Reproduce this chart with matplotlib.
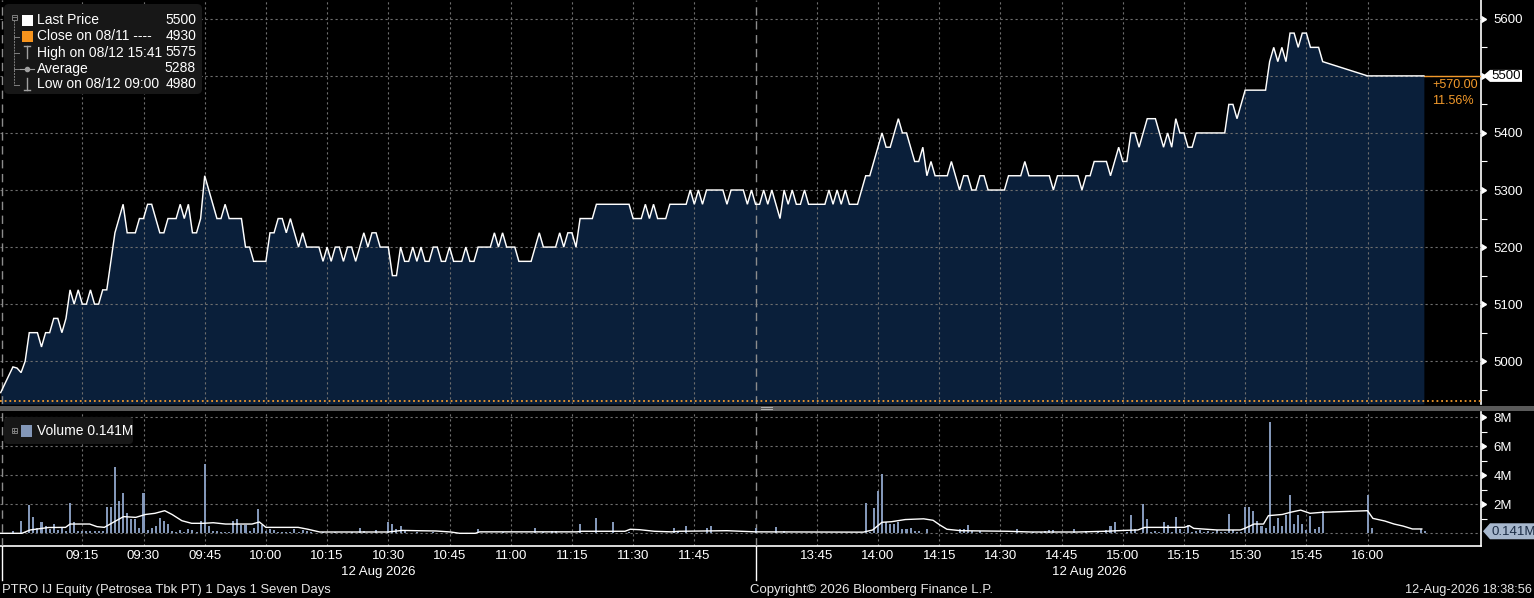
import matplotlib
matplotlib.use("Agg")
import matplotlib.pyplot as plt
from matplotlib.patches import FancyBboxPatch, Rectangle, Polygon
from matplotlib.ticker import FixedLocator
import numpy as np

plt.rcParams['font.family'] = ['Liberation Sans', 'DejaVu Sans']

W, H = 1534, 598

# ---------------- DATA ----------------
# x axis: trading minutes since 09:00 with the lunch break (12:00-13:30) removed
tick_minutes = [15, 30, 45, 60, 75, 90, 105, 120, 135, 150, 165,
                195, 210, 225, 240, 255, 270, 285, 300, 315, 330]
tick_labels = ["09:15", "09:30", "09:45", "10:00", "10:15", "10:30", "10:45",
               "11:00", "11:15", "11:30", "11:45",
               "13:45", "14:00", "14:15", "14:30", "14:45", "15:00", "15:15",
               "15:30", "15:45", "16:00"]
session_break = 180
day_start = -4.7
x_min, x_max = -5.17, 357.8

# price, one value per minute from minute -5 to minute 319
price_start = -5
price_values = [
    4945, 4960, 4975, 4990, 4988,
    4980, 5000, 5050, 5050, 5050, 5025, 5050, 5050, 5075, 5075,
    5050, 5075, 5125, 5100, 5125, 5100, 5100, 5125, 5100, 5100,
    5125, 5125, 5175, 5225, 5250, 5275, 5225, 5225, 5225, 5250,
    5250, 5275, 5275, 5250, 5225, 5225, 5250, 5250, 5250, 5275,
    5250, 5275, 5225, 5225, 5250, 5325, 5300, 5275, 5250, 5250,
    5275, 5250, 5250, 5250, 5250, 5200, 5200, 5175, 5175, 5175,
    5175, 5225, 5225, 5250, 5250, 5225, 5250, 5225, 5200, 5225,
    5200, 5200, 5200, 5200, 5175, 5200, 5175, 5200, 5200, 5175,
    5200, 5200, 5175, 5200, 5225, 5200, 5225, 5225, 5200, 5200,
    5200, 5150, 5150, 5200, 5175, 5175, 5200, 5175, 5200, 5175,
    5175, 5200, 5200, 5175, 5175, 5200, 5175, 5175, 5175, 5200,
    5175, 5175, 5200, 5200, 5200, 5200, 5225, 5200, 5225, 5200,
    5200, 5200, 5175, 5175, 5175, 5175, 5200, 5225, 5200, 5200,
    5200, 5200, 5225, 5200, 5225, 5225, 5200, 5250, 5250, 5250,
    5250, 5275, 5275, 5275, 5275, 5275, 5275, 5275, 5275, 5275,
    5250, 5250, 5250, 5275, 5250, 5275, 5250, 5250, 5250, 5275,
    5275, 5275, 5275, 5275, 5300, 5275, 5300, 5275, 5300, 5300,
    5300, 5300, 5300, 5275, 5300, 5300, 5300, 5300, 5275, 5300,
    5275, 5275, 5300, 5275, 5300, 5275, 5250, 5300, 5275, 5300,
    5275, 5275, 5300, 5275, 5275, 5275, 5275, 5275, 5300, 5275,
    5300, 5275, 5300, 5275, 5275, 5275, 5300, 5325, 5325, 5350,
    5375, 5400, 5375, 5375, 5400, 5425, 5400, 5400, 5375, 5350,
    5350, 5375, 5325, 5350, 5325, 5325, 5325, 5325, 5350, 5325,
    5300, 5325, 5325, 5300, 5300, 5325, 5325, 5300, 5300, 5300,
    5300, 5300, 5325, 5325, 5325, 5325, 5350, 5325, 5325, 5325,
    5325, 5325, 5325, 5300, 5325, 5325, 5325, 5325, 5325, 5325,
    5300, 5325, 5325, 5350, 5350, 5350, 5350, 5325, 5350, 5375,
    5350, 5350, 5400, 5400, 5375, 5400, 5425, 5425, 5425, 5400,
    5375, 5400, 5375, 5425, 5400, 5400, 5375, 5375, 5400, 5400,
    5400, 5400, 5400, 5400, 5400, 5400, 5450, 5450, 5425, 5450,
    5475, 5475, 5475, 5475, 5475, 5475, 5525, 5550, 5525, 5550,
    5525, 5575, 5575, 5550, 5575, 5575, 5550, 5550, 5550, 5525,
]
close_minutes = [330, 343.8]
close_values = [5500, 5500]
prev_close = 4930
last_price = 5500

# volume (millions), one value per minute from minute -5 to minute 344
vol_start = -5
volume = [
    0, 0, 0, 0.16, 0,
    0.85, 0.10, 1.95, 1.13, 0.40, 0.80, 0.50, 0.30, 0.65, 0.23,
    0.40, 0.15, 2.07, 0.80, 0.15, 0.15, 0.15, 0.15, 0.15, 0.15,
    0.15, 1.80, 1.80, 4.55, 2.20, 2.75, 1.40, 1.00, 1.00, 0.40,
    2.75, 0.23, 0.40, 0.50, 1.03, 0.85, 0.64, 0.15, 0.10, 0.23,
    0.10, 0.30, 0.23, 0.10, 0.85, 4.78, 0.50, 0.15, 0.15, 0.10,
    0.10, 0.10, 0.85, 1.00, 0.57, 0.57, 0.15, 0.37, 1.65, 0.57,
    0.15, 0.30, 0.23, 0.10, 0.08, 0.08, 0.10, 0.30, 0.10, 0.23,
    0.15, 0.10, 0.05, 0.05, 0.06, 0.05, 0.05, 0.06, 0.05, 0.05,
    0.05, 0.06, 0.05, 0.37, 0.15, 0.05, 0.05, 0.23, 0.05, 0.05,
    0.80, 0.64, 0.30, 0.50, 0.15, 0.05, 0.05, 0.06, 0.05, 0.05,
    0.05, 0.06, 0.05, 0.05, 0.05, 0.05, 0.04, 0.05, 0.05, 0.04,
    0.05, 0.05, 0.30, 0.05, 0.05, 0.04, 0.05, 0.05, 0.10, 0.05,
    0.05, 0.04, 0.05, 0.05, 0.05, 0.05, 0.37, 0.05, 0.10, 0.05,
    0.15, 0.15, 0.05, 0.05, 0.05, 0.05, 0.05, 0.64, 0.05, 0.05,
    0.05, 1.05, 0.05, 0.05, 0.05, 0.80, 0.05, 0.05, 0.05, 0.10,
    0.05, 0.05, 0.05, 0.05, 0.05, 0.05, 0.05, 0.05, 0.05, 0.05,
    0.40, 0.10, 0.05, 0.50, 0.05, 0.05, 0.05, 0.05, 0.40, 0.50,
    0.05, 0.05, 0.05, 0.05, 0.05, 0.05, 0.05, 0.05, 0.05, 0.05,
    0.40, 0.05, 0.05, 0.05, 0.05, 0.41, 0.05, 0.16, 0.05, 0.05,
    0.05, 0.05, 0.05, 0.05, 0.05, 0.05, 0.05, 0.05, 0.05, 0.05,
    0.05, 0.05, 0.05, 0.05, 0.05, 0.05, 0.05, 2.10, 0.10, 1.75,
    2.90, 4.10, 0.76, 0.64, 0.64, 0.80, 0.30, 0.30, 0.37, 0.16,
    0.16, 0.05, 0.30, 0.05, 0.05, 0.05, 0.05, 0.05, 0.05, 0.05,
    0.30, 0.30, 0.57, 0.16, 0.05, 0.16, 0.05, 0.05, 0.05, 0.05,
    0.05, 0.05, 0.05, 0.05, 0.28, 0.05, 0.05, 0.05, 0.10, 0.05,
    0.10, 0.16, 0.23, 0.23, 0.05, 0.05, 0.05, 0.05, 0.30, 0.05,
    0.05, 0.16, 0.05, 0.05, 0.16, 0.05, 0.23, 0.50, 0.80, 0.05,
    0.05, 0.10, 1.26, 0.30, 0.05, 2.00, 1.00, 0.10, 0.16, 0.10,
    0.76, 0.57, 0.10, 1.13, 0.30, 0.10, 0.57, 0.10, 0.16, 0.23,
    0.10, 0.16, 0.10, 0.23, 0.10, 0.10, 1.33, 0.23, 0.10, 0.10,
    1.82, 1.82, 1.54, 0.85, 0.50, 0.37, 7.70, 0.50, 1.06, 0.50,
    1.26, 2.64, 0.64, 1.26, 0.64, 0.23, 1.20, 0.30, 0.44, 1.54,
    0, 0, 0, 0, 0, 0, 0, 0, 0, 0,
    2.64, 0.37, 0, 0, 0, 0, 0, 0, 0, 0,
    0, 0, 0, 0.30, 0.14,
]
last_volume = 0.141

# volume average line (minute, millions)
avg_minutes = [-5.2, 0.2, 2.2, 6.7, 10.9, 12, 16.8, 18.6, 20.4, 23.3, 25.1, 28.1,
               30.5, 32.8, 35.2, 37, 39.4, 41.8, 44.7, 47.1, 50.1, 56.6, 58.4, 60,
               67.9, 70.3, 73.2, 89.9, 93.4, 97, 101.7, 105.3, 107.5, 111.3, 112.4,
               136.2, 137.4, 148, 149.3, 151.6, 155.2, 159.4, 161.2, 173, 180,
               206.4, 208.7, 211, 213.3, 216.7, 221.2, 223.5, 225.2, 226.9, 230.3,
               241.8, 247.5, 258.9, 265.7, 270.3, 273.7, 275.4, 285.1, 286.3, 287.4,
               293.1, 298.8, 299.9, 302.2, 304.5, 305.7, 309.1, 311.4, 313.6, 315.9,
               318.9, 330, 331.3, 334.2, 336.5, 338.7, 341, 343.3]
avg_values = [0, 0, 0.23, 0.40, 0.41, 0.64, 0.64, 0.46, 0.41, 0.87, 1.15, 1.10,
              1.30, 1.38, 1.56, 1.30, 0.87, 0.69, 0.69, 0.73, 0.64, 0.64, 0.78, 0.41,
              0.41, 0.28, 0.09, 0.09, 0.20, 0.18, 0.16, 0.09, 0.0, 0.0, 0.10,
              0.10, 0.14, 0.14, 0.28, 0.25, 0.14, 0.10, 0.14, 0.18, 0.10,
              0.08, 0.23, 0.76, 0.80, 0.95, 1.00, 0.90, 0.57, 0.28, 0.18,
              0.14, 0.09, 0.09, 0.14, 0.20, 0.23, 0.41, 0.41, 0.53, 0.34,
              0.23, 0.23, 0.34, 0.64, 0.64, 1.22, 1.30, 1.47, 1.60, 1.38,
              1.45, 1.56, 1.03, 0.85, 0.64, 0.50, 0.30, 0.30]

legend_labels = ["Last Price", "Close on 08/11 ----", "High on 08/12 15:41",
                 "Average", "Low on 08/12 09:00"]
legend_values = ["5500", "4930", "5575", "5288", "4980"]

date_label = "12 Aug 2026"
footer_left = "PTRO IJ Equity (Petrosea Tbk PT) 1 Days 1 Seven Days"
footer_mid = "Copyright\u00a9 2026 Bloomberg Finance L.P."
footer_right = "12-Aug-2026 18:38:56"

# ---------------- STYLE ----------------
BG = "black"
FILL = "#0a1f3a"
GRID = "#6e6e6e"
ORANGE = "#f39a2b"
VOLC = "#8397b8"
TXT = "white"
FS = 9.5
LFS = 10

fig = plt.figure(figsize=(W / 100, H / 100), dpi=100, facecolor=BG)


def box(l, t, r, b):
    return [l / W, 1 - b / H, (r - l) / W, (b - t) / H]


ax = fig.add_axes(box(0, 0, 1481, 404), facecolor=BG)
axv = fig.add_axes(box(0, 412, 1481, 545.7), facecolor=BG)

# ---- price panel ----
p_t = list(np.arange(price_start, price_start + len(price_values))) + close_minutes
p_v = price_values + close_values
ax.set_xlim(x_min, x_max)
ax.set_ylim(4925, 5633)
ax.fill_between(p_t, p_v, 4925, color=FILL, lw=0, zorder=1)
ax.plot(p_t, p_v, color="white", lw=1.05, zorder=5, solid_joinstyle="miter")
ax.axhline(prev_close, color=ORANGE, ls=(0, (1, 1.6)), lw=1.3, zorder=4)
ax.plot([close_minutes[-1], x_max], [last_price, last_price], color=ORANGE, lw=1.0, zorder=4)

ax.set_xticks(tick_minutes)
ax.set_yticks(np.arange(5000, 5601, 100))
ax.yaxis.set_minor_locator(FixedLocator(np.arange(4950, 5651, 100)))
ax.grid(True, which="major", color=GRID, ls=(0, (2, 2.5)), lw=0.8)
ax.set_axisbelow(False)
for gl in ax.get_xgridlines() + ax.get_ygridlines():
    gl.set_zorder(2)
ax.tick_params(axis="x", length=0, labelbottom=False)
ax.yaxis.tick_right()
ax.tick_params(axis="y", which="major", length=0, pad=9, labelcolor=TXT, labelsize=FS)
ax.tick_params(axis="y", which="minor", length=4, width=0.8, color="white", direction="out")
for s in ["left", "top", "bottom"]:
    ax.spines[s].set_visible(False)
ax.spines["right"].set_color("white")
ax.spines["right"].set_linewidth(1.2)
ax.plot([x_max] * 7, np.arange(5000, 5601, 100), ls="none", marker=9, ms=5,
        color="white", clip_on=False, zorder=6)
for a in (ax, axv):
    a.axvline(day_start, color="#8c8c8c", ls=(0, (6, 4)), lw=1.0, zorder=3)
    a.axvline(session_break, color="#8c8c8c", ls=(0, (6, 4)), lw=1.0, zorder=3)

# ---- volume panel ----
v_t = np.arange(vol_start, vol_start + len(volume))
axv.set_xlim(x_min, x_max)
axv.set_ylim(-0.855, 8.37)
axv.bar(v_t, volume, width=0.5, color=VOLC, lw=0, zorder=3)
axv.plot(avg_minutes, avg_values, color="white", lw=1.0, zorder=4)
axv.set_xticks(tick_minutes)
axv.set_xticklabels(tick_labels)
axv.set_yticks([0, 2, 4, 6, 8])
axv.set_yticklabels(["", "2M", "4M", "6M", "8M"])
axv.yaxis.set_minor_locator(FixedLocator([1, 3, 5, 7]))
axv.grid(True, which="major", color=GRID, ls=(0, (2, 2.5)), lw=0.8)
for gl in axv.get_xgridlines() + axv.get_ygridlines():
    gl.set_zorder(2)
axv.yaxis.tick_right()
axv.tick_params(axis="y", which="major", length=0, pad=9, labelcolor=TXT, labelsize=FS)
axv.tick_params(axis="y", which="minor", length=4, width=0.8, color="white", direction="out")
axv.tick_params(axis="x", length=0, pad=3, labelcolor=TXT, labelsize=FS)
for s in ["left", "top"]:
    axv.spines[s].set_visible(False)
for s in ["right", "bottom"]:
    axv.spines[s].set_color("white")
    axv.spines[s].set_linewidth(1.2)
axv.plot([x_max] * 4, [2, 4, 6, 8], ls="none", marker=9, ms=5,
         color="white", clip_on=False, zorder=6)

# ---- overlay in pixel coordinates ----
ov = fig.add_axes([0, 0, 1, 1], facecolor="none")
ov.set_xlim(0, W)
ov.set_ylim(H, 0)
ov.axis("off")
ov.set_zorder(10)

fig.canvas.draw()


def ypix(axis, val):
    return H - axis.transData.transform((0, val))[1]


def xpix(axis, val):
    return axis.transData.transform((val, 0))[0]


# separator band between panels
ov.add_patch(Rectangle((0, 405.5), W, 5, fc="#5a5a5a", ec="none"))
ov.plot([761, 772], [407, 407], color="#b0b0b0", lw=0.7)
ov.plot([761, 772], [409, 409], color="#b0b0b0", lw=0.7)

# legend box (price)
ov.add_patch(FancyBboxPatch((4, 4), 198, 90, boxstyle="round,pad=0,rounding_size=5",
                            fc="#171717", ec="none"))
rows_y = [20.5, 36.5, 52.5, 68.5, 84.5]
for lab, val, yy in zip(legend_labels, legend_values, rows_y):
    ov.text(37, yy, lab, color=TXT, fontsize=LFS, va="center", ha="left")
    ov.text(196, yy, val, color=TXT, fontsize=LFS, va="center", ha="right")
tree = "#808080"
ov.add_patch(Rectangle((11.5, 14.5), 5, 5, fc="none", ec=tree, lw=0.7))
ov.plot([12.5, 15.5], [17, 17], color=tree, lw=0.7)
ov.plot([14, 14], [19.5, 84.5], color=tree, lw=0.7, ls=(0, (2, 1)))
for yy in rows_y[1:]:
    ov.plot([14, 19], [yy, yy], color=tree, lw=0.7)
ov.add_patch(Rectangle((21.5, 14.5), 11, 11, fc="white", ec="none"))
ov.add_patch(Rectangle((21.5, 30.5), 11, 11, fc="#f7941d", ec="none"))
ov.plot([27, 27], [46, 58], color="#a0a0a0", lw=1.0)
ov.plot([24, 30], [46, 46], color="#a0a0a0", lw=1.0)
ov.plot([20, 34], [68.5, 68.5], color="#a0a0a0", lw=0.8)
ov.plot([27], [68.5], marker="o", ms=3, color="#a0a0a0")
ov.plot([27, 27], [78, 90], color="#a0a0a0", lw=1.0)
ov.plot([24, 30], [90, 90], color="#a0a0a0", lw=1.0)

# legend box (volume)
ov.add_patch(FancyBboxPatch((4, 417), 129, 27, boxstyle="round,pad=0,rounding_size=4",
                            fc="#171717", ec="none"))
ov.add_patch(Rectangle((11.5, 428), 5, 5, fc="none", ec=tree, lw=0.7))
ov.plot([12.5, 15.5], [430.5, 430.5], color=tree, lw=0.7)
ov.plot([14, 14], [429, 432], color=tree, lw=0.7)
ov.add_patch(Rectangle((21, 424.5), 11, 12, fc=VOLC, ec="none"))
ov.text(37, 431, "Volume %.3fM" % last_volume, color=TXT, fontsize=LFS, va="center", ha="left")

# last price tag
yl = ypix(ax, last_price)
xr = xpix(ax, x_max)
ov.add_patch(Polygon([(xr + 2, yl), (xr + 9, yl - 6), (xr + 41, yl - 6),
                      (xr + 41, yl + 6), (xr + 9, yl + 6)], closed=True, fc="white", ec="none"))
ov.text(xr + 10, yl + 0.5, "%d" % last_price, color="black", fontsize=FS, va="center", ha="left")
chg = last_price - prev_close
ov.text(1432, yl + 9, "+%.2f" % chg, color=ORANGE, fontsize=9, va="center", ha="left")
ov.text(1432, yl + 25, "%.2f%%" % (chg / prev_close * 100), color=ORANGE, fontsize=9,
        va="center", ha="left")

# last volume tag
yv = ypix(axv, last_volume)
ov.add_patch(Polygon([(xr + 2, yv), (xr + 9, yv - 8), (W, yv - 8),
                      (W, yv + 8), (xr + 9, yv + 8)], closed=True, fc="#a7b7cd", ec="none"))
ov.text(xr + 10, yv + 0.5, "%.3fM" % last_volume, color="#1b2c45", fontsize=FS,
        va="center", ha="left")

# date labels (centred on each session) and separators under the time axis
ov.plot([1.5, 1.5], [546, 580], color="white", lw=1.0)
xs = xpix(axv, session_break)
ov.plot([xs, xs], [546, 580], color="white", lw=1.0)
xd1 = xpix(axv, (x_min + session_break) / 2)
xd2 = xpix(axv, (session_break + close_minutes[-1]) / 2)
ov.text(xd1, 572, date_label, color=TXT, fontsize=FS, ha="center", va="center")
ov.text(xd2, 572, date_label, color=TXT, fontsize=FS, ha="center", va="center")

# footer
ov.text(2, 590, footer_left, color="#e6e6e6", fontsize=9.4, ha="left", va="center")
ov.text(871, 590, footer_mid, color="#e6e6e6", fontsize=9.5, ha="center", va="center")
ov.text(1532, 590, footer_right, color="#e6e6e6", fontsize=9.2, ha="right", va="center")

fig.savefig("out.png", dpi=100, facecolor=BG)
